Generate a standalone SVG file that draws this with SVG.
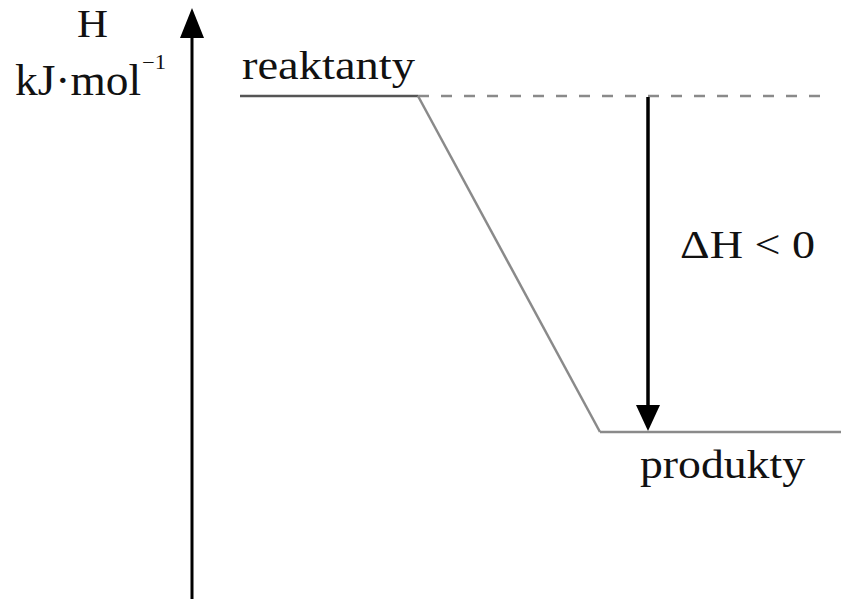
<svg xmlns="http://www.w3.org/2000/svg" width="841" height="599" viewBox="0 0 841 599">
<style>
.t{font-family:"Liberation Serif","Times New Roman",serif;fill:#111;}
.g{stroke:#8a8a8a;stroke-width:2.5;fill:none;}
</style>
<rect width="841" height="599" fill="#fff"/>
<g id="axis">
<line x1="192" y1="599" x2="192" y2="36" stroke="#000" stroke-width="3"/>
<path d="M180,38 L192,8 L204,38 Z" fill="#000"/>
<text class="t" x="77" y="37" font-size="40" textLength="31" lengthAdjust="spacingAndGlyphs">H</text>
<text class="t" x="15" y="95" font-size="44" textLength="126" lengthAdjust="spacingAndGlyphs">kJ·mol</text>
<text class="t" x="142" y="69" font-size="20" textLength="24" lengthAdjust="spacingAndGlyphs">−1</text>
</g>
<g id="reaktanty">
<line x1="240" y1="96" x2="418" y2="96" stroke="#555" stroke-width="2.5"/>
<text class="t" x="242" y="79" font-size="40" textLength="173" lengthAdjust="spacingAndGlyphs">reaktanty</text>
</g>
<g id="produkty">
<line x1="600" y1="432" x2="841" y2="432" class="g"/>
<text class="t" x="640" y="478" font-size="40" textLength="165" lengthAdjust="spacingAndGlyphs">produkty</text>
</g>
<g id="connectors">
<line x1="418" y1="96" x2="830" y2="96" stroke="#8a8a8a" stroke-width="2.5" stroke-dasharray="11 12"/>
<polyline class="g" points="418,96 600,432"/>
<line x1="648" y1="97" x2="648" y2="406" stroke="#000" stroke-width="3.5"/>
<path d="M636,405 L648,431 L660,405 Z" fill="#000"/>
</g>
<g id="deltaH">
<text class="t" x="680" y="258" font-size="40" textLength="135" lengthAdjust="spacingAndGlyphs">ΔH &lt; 0</text>
</g>
</svg>
